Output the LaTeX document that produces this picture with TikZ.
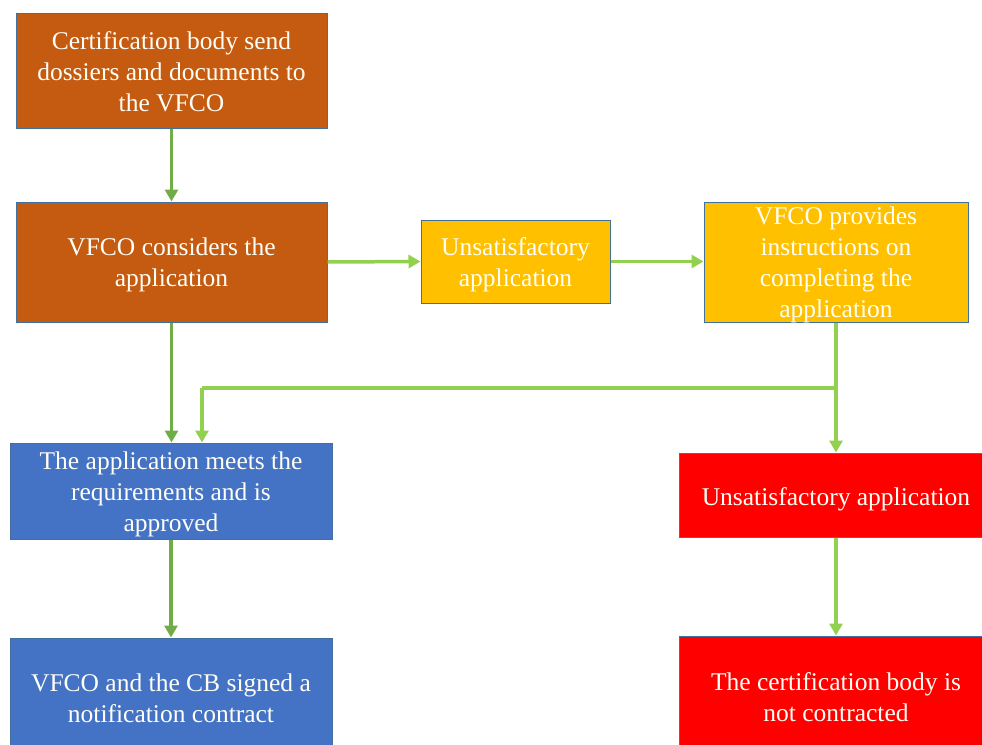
\documentclass[tikz,border=0pt]{standalone}
\usepackage{fontspec}
\setmainfont{Liberation Serif}
\usetikzlibrary{arrows.meta}
\definecolor{brown1}{HTML}{C55A11}
\definecolor{gold1}{HTML}{FFC000}
\definecolor{blue1}{HTML}{4472C4}
\definecolor{red1}{HTML}{FF0000}
\definecolor{edge1}{HTML}{41719C}
\definecolor{dgreen}{HTML}{70AD47}
\definecolor{lgreen}{HTML}{92D050}
\tikzset{
  box/.style={draw=edge1, line width=1pt, rectangle, inner sep=0pt},
  txt/.style={inner sep=0pt, align=center, text=white!97!yellow,
    font=\fontsize{25.5}{31}\selectfont},
  arrD/.style={draw=dgreen, line width=3.5pt, -{Triangle[width=13pt,length=12pt]}},
  arrL/.style={draw=lgreen, line width=3.5pt, -{Triangle[width=13pt,length=12pt]}},
  lineL/.style={draw=lgreen, line width=3.5pt},
}
\begin{document}
\begin{tikzpicture}[x=1pt,y=-1pt]
\useasboundingbox (0,0) rectangle (982,744);
\node[box, fill=brown1, minimum width=311pt, minimum height=115pt] (b1) at (171.5,70.5) {};
\node[box, fill=brown1, minimum width=311pt, minimum height=120pt] (b2) at (171.5,262) {};
\node[box, fill=gold1, minimum width=189pt, minimum height=83pt] (b3) at (515.5,261.5) {};
\node[box, fill=gold1, minimum width=264pt, minimum height=120pt] (b4) at (836,262) {};
\node[box, fill=blue1, minimum width=322pt, minimum height=96pt] (b5) at (171,491) {};
\node[box, fill=blue1, minimum width=322pt, minimum height=118pt] (b6) at (171,697) {};
\node[box, fill=red1, minimum width=314pt, minimum height=84pt] (r1) at (836,495) {};
\node[box, fill=red1, minimum width=314pt, minimum height=120pt] (r2) at (836,696) {};

\node[txt] (t1) at ([yshift=-1pt]b1.center) {Certification body send\\dossiers and documents to\\the VFCO};
\node[txt] (t2) at ([yshift=-3pt]b2.center) {VFCO considers the\\application};
\node[txt] (t3) at ([yshift=-3pt]b3.center) {Unsatisfactory\\application};
\node[txt] (t4) at ([yshift=-3pt]b4.center) {VFCO provides\\instructions on\\completing the\\application};
\node[txt] (t5) at ([yshift=-3pt]b5.center) {The application meets the\\requirements and is\\approved};
\node[txt] (t6) at ([yshift=-1pt]b6.center) {VFCO and the CB signed a\\notification contract};
\node[txt] (t7) at ([yshift=-4pt]r1.center) {Unsatisfactory application};
\node[txt] (t8) at ([yshift=-1pt]r2.center) {The certification body is\\not contracted};

\draw[arrD] (b1.south) -- (b2.north);
\draw[arrD] (b2.south) -- (b2.south |- b5.north);
\draw[arrD] (b5.south) -- (b5.south |- b6.north);
\draw[arrL] (b2.east) -- (b3.west);
\draw[arrL] (b3.east) -- (b4.west |- b3.east);
\draw[arrL] (b4.south) -- (r1.north);
\coordinate (j) at (836,388);
\coordinate (k) at (202,388);
\draw[lineL] (j) -- (k);
\draw[arrL] (k) -- (k |- b5.north);
\draw[arrL] (r1.south) -- (r2.north);
\end{tikzpicture}
\end{document}
